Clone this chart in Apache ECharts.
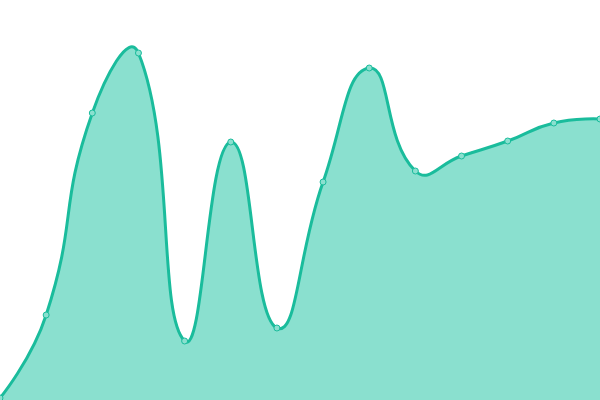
<!DOCTYPE html>
<html>
<head>
<meta charset="utf-8">
<script src="https://cdn.jsdelivr.net/npm/echarts@6/dist/echarts.min.js"></script>
<style>
  html, body { margin: 0; padding: 0; background: #fff; }
  #chartMain { width: 600px; height: 400px; }
</style>
</head>
<body>
<div id="chartMain"></div>
<script>
var categories = ['1', '2', '3', '4', '5', '6', '7', '8', '9', '10', '11', '12', '13', '14'];
var values = [2, 85, 287, 347, 59, 258, 72, 218, 332, 229, 244, 259, 277, 281];

var smooth = 0.5;

// control points like the old (v4) smoothing: no clamping, so peaks can overshoot
const controlPoints = (pts) => {
    var cps = [];
    for (var i = 0; i < pts.length; i++) {
        var p = pts[i];
        if (i === 0 || i === pts.length - 1) {
            cps.push([p.slice(), p.slice()]);
            continue;
        }
        var prev = pts[i - 1];
        var next = pts[i + 1];
        var vx = (next[0] - prev[0]) * smooth;
        var vy = (next[1] - prev[1]) * smooth;
        var d0 = Math.hypot(p[0] - prev[0], p[1] - prev[1]);
        var d1 = Math.hypot(p[0] - next[0], p[1] - next[1]);
        var sum = d0 + d1;
        if (sum !== 0) { d0 /= sum; d1 /= sum; }
        cps.push([[p[0] - vx * d0, p[1] - vy * d0], [p[0] + vx * d1, p[1] + vy * d1]]);
    }
    return cps;
};

const renderItem = (params, api) => {
    var idx = params.dataIndex;
    var pt = api.coord([idx, values[idx]]);
    var dot = {
        type: 'circle',
        shape: { cx: pt[0], cy: pt[1], r: 3 },
        style: { fill: '#8ae0cf', stroke: '#1abc9c', lineWidth: 1 },
        z2: 10
    };
    if (idx !== 0) {
        return dot;
    }

    var pts = values.map((v, i) => api.coord([i, v]));
    var cps = controlPoints(pts);
    var d = 'M' + pts[0][0] + ' ' + pts[0][1];
    for (var i = 1; i < pts.length; i++) {
        var a = cps[i - 1][1];
        var b = cps[i][0];
        d += ' C' + a[0] + ' ' + a[1] + ' ' + b[0] + ' ' + b[1] + ' ' + pts[i][0] + ' ' + pts[i][1];
    }
    var base = api.coord([0, 0])[1];
    var last = pts[pts.length - 1];
    var area = d + ' L' + last[0] + ' ' + base + ' L' + pts[0][0] + ' ' + base + ' Z';

    return {
        type: 'group',
        children: [{
            type: 'path',
            shape: { pathData: area },
            style: { fill: '#8ae0cf', stroke: null },
            z2: 1
        }, {
            type: 'path',
            shape: { pathData: d },
            style: { fill: null, stroke: '#1abc9c', lineWidth: 3 },
            z2: 5
        }, dot]
    };
};

const chartInit = () => {
    var chartDom = document.getElementById('chartMain');
    var myChart = echarts.init(chartDom);
    var option;

    option = {
        animation: false,
        grid: { left: 0, right: 0, top: 0, bottom: 0 },
        xAxis: {
            type: 'category',
            boundaryGap: false,
            data: categories,
            show: false
        },
        yAxis: {
            type: 'value',
            min: 0,
            max: 400,
            show: false
        },
        series: [{
            type: 'custom',
            renderItem: renderItem,
            clip: true,
            data: values.map((v, i) => [i, v]),
            encode: { x: 0, y: 1 }
        }]
    };

    option && myChart.setOption(option);
};

chartInit();
</script>
</body>
</html>
